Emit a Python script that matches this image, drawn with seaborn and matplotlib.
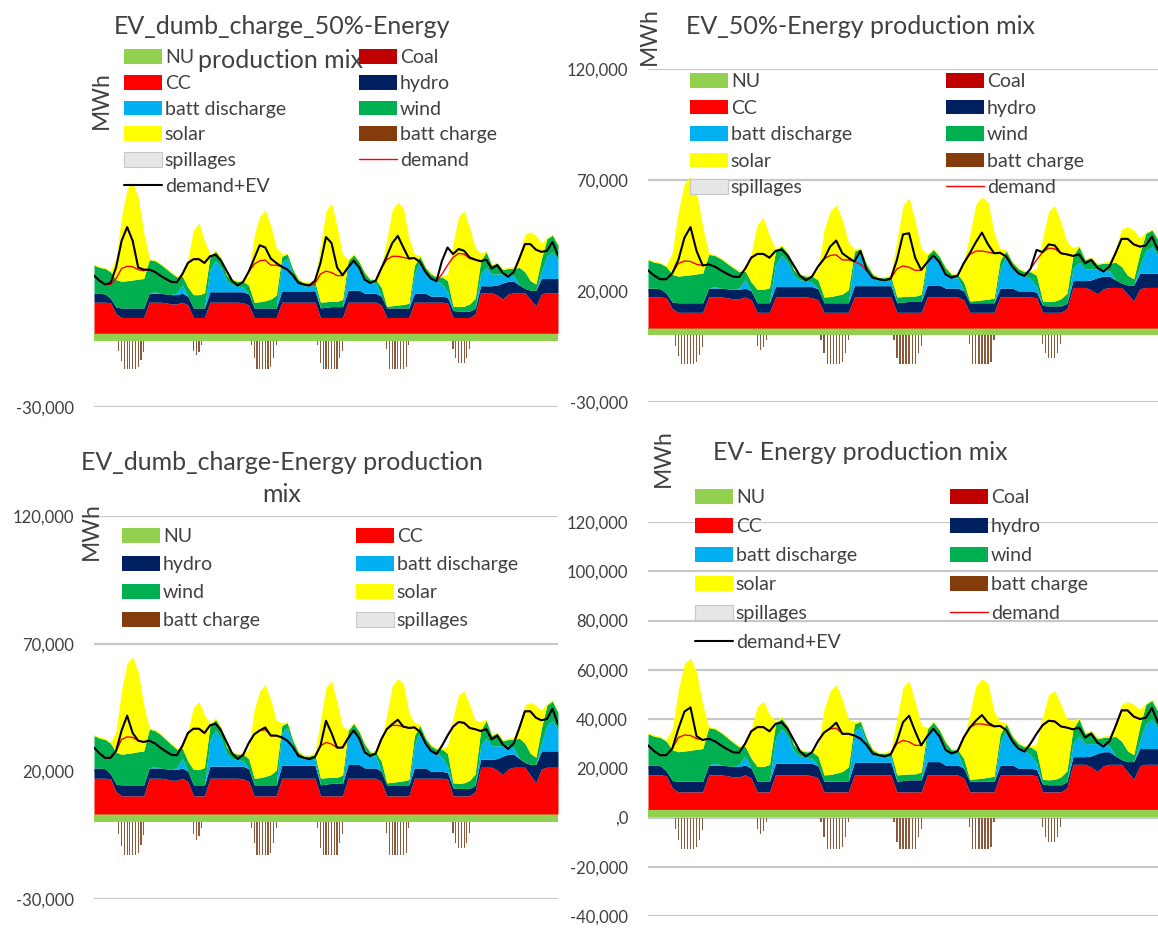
import numpy as np
import pandas as pd
import matplotlib
matplotlib.use("Agg")
import matplotlib.pyplot as plt
import seaborn as sns
from matplotlib.patches import Patch
from matplotlib.lines import Line2D

# ------------------------------------------------------------------
# Data (thousand MWh), one value every 2 hours
# Cumulative top of each stacked layer (NU -> CC -> hydro -> batt -> wind -> solar)
# ------------------------------------------------------------------
hours = list(range(0, 170, 2))
nu_k = 3.3          # NU band (constant)
coal_k = 0.0        # coal (not visible)
spill_k = 0.0       # spillages (not visible)

cc_top_k = [17.3,17.3,17.3,17.0,12.0,10.4,10.4,10.4,10.4,10.4,17.3,17.3,
            17.3,17.0,16.5,16.5,17.3,16.0,10.4,10.4,10.4,17.3,17.3,17.3,
            17.3,17.3,17.3,17.0,16.0,10.4,10.4,10.4,10.4,10.4,17.3,17.3,
            17.3,17.3,17.3,17.3,17.3,10.4,10.4,10.4,10.4,10.4,17.3,17.3,
            17.3,17.3,17.3,17.3,16.0,10.4,10.4,10.4,10.4,10.4,17.3,17.3,
            17.3,17.3,17.3,17.3,17.0,10.4,10.4,10.4,10.4,12.0,21.6,21.6,
            21.6,20.5,18.7,21.0,21.6,21.6,21.6,18.5,15.5,21.0,21.6,21.6,21.6]

hydro_top_k = [21.3,21.3,21.0,19.0,15.0,14.7,14.7,14.7,14.7,14.7,21.3,21.3,
               21.3,21.0,20.7,20.7,21.3,20.0,14.7,14.7,14.7,22.0,22.0,22.0,
               22.0,22.0,22.0,22.0,21.0,14.7,14.7,14.7,14.7,14.7,22.4,22.4,
               22.4,22.4,22.4,22.4,22.4,14.7,15.0,15.3,15.3,15.3,22.7,22.7,
               22.7,21.3,21.3,21.3,20.0,14.7,14.7,14.7,14.7,14.7,21.3,21.3,
               21.3,20.0,20.0,20.0,19.5,13.5,13.3,13.3,13.3,14.5,24.7,24.7,
               24.7,25.0,26.0,26.7,26.7,25.0,23.5,22.7,22.7,28.0,28.0,28.0,28.0]

batt_top_k = [21.3,21.3,21.0,19.0,15.0,14.7,14.7,14.7,14.7,14.7,21.3,22.0,
              21.3,21.0,20.7,21.5,25.0,20.0,14.7,14.7,14.7,32.0,36.0,33.0,
              27.0,25.0,24.7,24.0,21.0,14.7,14.7,14.7,14.7,14.7,35.0,37.0,
              30.0,26.0,24.7,24.7,24.7,14.7,15.0,15.3,15.3,15.3,33.0,36.0,
              33.0,28.5,26.0,26.0,20.0,14.7,14.7,14.7,14.7,14.7,30.0,36.0,
              31.5,28.5,27.3,25.5,22.0,13.5,13.3,13.3,13.3,14.5,30.0,33.0,
              30.0,30.0,30.0,30.0,29.0,25.0,23.5,22.7,22.7,31.0,38.0,40.0,36.0]

wind_top_k = [34.0,33.0,32.5,31.0,27.5,26.7,27.0,27.3,27.7,28.0,36.5,36.0,
              34.5,32.5,30.5,28.7,29.0,24.0,20.7,20.7,21.5,38.0,40.3,37.0,
              29.5,27.3,26.7,26.7,25.0,17.3,17.5,18.0,18.7,20.5,38.0,39.0,
              32.0,27.5,26.0,26.0,26.5,17.3,17.5,17.7,17.7,18.5,36.0,38.7,
              35.5,30.5,27.5,27.5,24.0,15.5,15.7,16.0,16.3,16.8,34.0,38.0,
              33.0,30.0,28.7,28.7,27.0,15.5,15.3,15.5,16.5,19.0,36.0,40.0,
              34.0,35.0,32.0,32.5,32.5,33.0,31.0,27.0,25.5,37.0,46.0,47.5,43.0]

# solar top, top-row charts (50% EV)
solar_top_50_k = [34.5,33.5,33.0,31.5,37.5,56.0,68.5,71.6,64.5,49.0,37.0,36.5,
                  35.0,33.0,31.0,29.2,30.0,37.0,50.0,53.0,45.0,39.0,41.0,37.5,
                  30.0,27.8,27.2,27.2,29.5,47.5,56.0,58.8,52.0,42.0,39.0,39.5,
                  32.5,28.0,26.5,26.5,27.5,43.0,58.5,62.0,51.5,39.0,36.5,39.3,
                  36.0,31.0,28.0,28.0,33.0,45.5,59.0,62.4,60.0,46.5,39.0,38.5,
                  33.5,30.5,29.2,29.2,30.0,44.0,56.0,58.5,51.0,42.0,39.5,40.5,
                  34.5,35.5,32.5,33.0,33.5,39.0,48.0,49.0,47.5,44.0,46.5,48.0,43.5]

# solar top, bottom-row charts (100% EV)
solar_top_100_k = [34.5,33.5,33.0,31.5,36.0,52.0,62.5,64.7,59.0,46.0,37.0,36.5,
                   35.0,33.0,31.0,29.2,30.0,36.0,45.0,47.3,42.0,39.0,41.0,37.5,
                   30.0,27.8,27.2,27.2,29.0,44.0,51.5,54.0,48.0,40.0,39.0,39.5,
                   32.5,28.0,26.5,26.5,27.5,40.0,53.0,55.5,47.0,37.5,36.5,39.3,
                   36.0,31.0,28.0,28.0,32.0,42.0,53.5,56.3,54.5,43.0,39.0,38.5,
                   33.5,30.5,29.2,29.2,30.0,41.0,50.0,51.5,46.0,40.0,39.5,40.5,
                   34.5,35.5,32.5,33.0,33.5,38.0,46.0,47.0,46.0,44.0,46.5,48.0,43.5]

demand_k = [29.3,27.0,25.3,25.3,28.0,32.5,33.5,33.3,32.0,31.5,32.0,31.0,
            29.3,27.8,26.5,26.3,30.0,35.0,36.7,36.7,35.0,38.0,38.7,36.0,
            31.5,27.0,24.8,26.5,31.0,34.5,36.0,36.3,34.0,34.0,33.3,32.0,
            29.5,26.0,25.3,24.8,25.7,30.0,31.3,30.7,29.3,29.3,33.0,36.0,
            33.0,27.5,26.0,27.0,32.5,36.5,38.0,38.0,37.5,37.0,37.2,35.5,
            31.0,28.0,26.8,30.0,34.0,37.5,39.3,39.0,37.0,36.5,35.8,36.5,
            32.5,34.0,30.5,28.8,31.0,37.0,43.5,43.5,41.0,40.0,40.5,44.5,38.5]

ev_dumb50_k = [29.3,27.0,25.3,26.0,33.0,45.0,51.2,45.0,33.0,32.0,32.0,31.0,
               29.3,27.8,26.5,26.3,30.0,35.0,36.7,36.7,35.0,38.0,38.7,36.0,
               31.5,27.0,24.8,26.5,31.0,37.0,43.0,42.0,37.0,35.0,33.3,32.0,
               29.5,26.0,25.3,24.8,27.0,35.0,46.7,44.0,33.0,29.5,33.0,36.0,
               33.0,27.5,26.0,27.0,32.5,38.0,44.0,47.2,42.0,37.0,37.2,35.5,
               31.0,28.0,26.8,36.0,42.0,39.0,41.3,40.5,37.5,36.5,35.8,36.5,
               32.5,34.0,30.5,28.8,31.0,37.0,43.5,43.5,41.0,40.0,40.5,44.5,38.5]

ev_50_k = [29.3,27.0,25.3,25.3,28.0,34.0,44.0,48.8,38.0,31.5,32.0,31.0,
           29.3,27.8,26.5,26.3,30.0,35.0,36.7,36.7,35.0,38.0,38.7,36.0,
           31.5,27.0,24.8,26.5,31.0,34.5,40.0,42.7,37.0,35.0,33.3,38.0,
           29.5,26.0,25.3,24.8,25.7,34.0,45.5,46.0,35.0,29.5,33.0,36.0,
           33.0,27.5,26.0,27.0,32.5,37.0,42.0,46.3,41.0,37.0,37.2,35.5,
           31.0,28.0,26.8,30.0,38.5,37.5,41.0,40.5,37.0,36.5,35.8,36.5,
           32.5,34.0,30.5,28.8,31.0,37.0,43.5,43.5,41.0,40.0,40.5,44.5,38.5]

ev_dumb_k = [29.3,27.0,25.3,25.3,28.0,36.0,41.8,35.0,32.0,31.5,32.0,31.0,
             29.3,27.8,26.5,26.3,30.0,35.0,36.7,36.7,35.0,38.0,38.7,36.0,
             31.5,27.0,24.8,26.5,31.0,34.5,36.0,37.2,34.0,34.0,33.3,32.0,
             29.5,26.0,25.3,24.8,25.7,30.0,39.8,35.0,29.3,29.3,33.0,36.0,
             33.0,27.5,26.0,27.0,32.5,36.5,38.5,40.2,37.5,37.0,37.2,35.5,
             31.0,28.0,26.8,30.0,34.0,37.5,39.3,39.0,37.0,36.5,35.8,36.5,
             32.5,34.0,30.5,28.8,31.0,37.0,43.5,43.5,41.0,40.0,40.5,44.5,38.5]

ev_k = [29.3,27.0,25.3,25.3,28.0,36.0,43.0,44.7,33.0,31.5,32.0,31.0,
        29.3,27.8,26.5,26.3,30.0,35.0,36.7,36.7,35.0,38.0,38.7,36.0,
        31.5,27.0,24.8,26.5,31.0,34.5,36.2,38.5,34.0,34.0,33.3,32.0,
        29.5,26.0,25.3,24.8,25.7,31.0,38.7,41.3,35.0,29.3,33.0,36.0,
        33.0,27.5,26.0,27.0,32.5,36.5,39.3,41.6,38.5,37.0,37.2,35.5,
        31.0,28.0,26.8,30.0,34.0,37.5,39.3,39.0,37.0,36.5,35.8,36.5,
        32.5,34.0,30.5,28.8,31.0,37.0,43.5,43.5,41.0,40.0,40.5,44.5,38.5]

# battery charging (negative), hourly
charge_hours = [9,10,11,12,13,14,15,16,17,18,
                36,37,38,39,
                57,58,59,60,61,62,63,64,65,66,
                81,82,83,84,85,86,87,88,89,90,
                106,107,108,109,110,111,112,113,114,
                130,131,132,133,134,135,136]
charge_k = [-4.7,-9.3,-12.7,-12.7,-12.7,-12.7,-12.7,-12.0,-9.0,-5.0,
            -4.7,-6.7,-5.3,-2.0,
            -2.0,-8.0,-12.7,-12.7,-12.7,-12.7,-12.7,-12.0,-8.0,-2.0,
            -2.0,-10.0,-12.7,-12.7,-12.7,-12.7,-12.7,-12.7,-8.0,-4.7,
            -4.0,-12.7,-12.7,-12.7,-12.7,-12.7,-12.7,-12.0,-2.0,
            -4.0,-8.0,-10.0,-10.0,-10.0,-8.0,-4.0]

# ------------------------------------------------------------------
COL = {'NU': '#92D050', 'Coal': '#C00000', 'CC': '#FF0000', 'hydro': '#002060',
       'batt discharge': '#00B0F0', 'wind': '#00B050', 'solar': '#FFFF00',
       'batt charge': '#843C0C', 'spillages': '#E7E6E6',
       'demand': '#FF0000', 'demand+EV': '#000000'}
TXT = '#404040'

sns.set_theme(style="white")
plt.rcParams['font.family'] = ['Lato', 'DejaVu Sans']

W, H = 1158, 932
fig = plt.figure(figsize=(W / 100, H / 100), dpi=100)
fig.patch.set_facecolor('white')


def fx(px):
    return px / W


def fy(py):
    return 1 - py / H


K = 1000.0
df = pd.DataFrame({'hour': hours,
                   'cc': np.array(cc_top_k) * K, 'hydro': np.array(hydro_top_k) * K,
                   'batt': np.array(batt_top_k) * K, 'wind': np.array(wind_top_k) * K,
                   'solar50': np.array(solar_top_50_k) * K,
                   'solar100': np.array(solar_top_100_k) * K,
                   'demand': np.array(demand_k) * K,
                   'ev_dumb50': np.array(ev_dumb50_k) * K, 'ev50': np.array(ev_50_k) * K,
                   'ev_dumb': np.array(ev_dumb_k) * K, 'ev': np.array(ev_k) * K})

LW_DEM = 1.0
LW_EV = 1.5
handles = {
    'NU': Patch(fc=COL['NU'], ec='none'), 'Coal': Patch(fc=COL['Coal'], ec='none'),
    'CC': Patch(fc=COL['CC'], ec='none'), 'hydro': Patch(fc=COL['hydro'], ec='none'),
    'batt discharge': Patch(fc=COL['batt discharge'], ec='none'),
    'wind': Patch(fc=COL['wind'], ec='none'), 'solar': Patch(fc=COL['solar'], ec='none'),
    'batt charge': Patch(fc=COL['batt charge'], ec='none'),
    'spillages': Patch(fc=COL['spillages'], ec='#C8C8C8', lw=0.8),
    'demand': Line2D([], [], color=COL['demand'], lw=LW_DEM),
    'demand+EV': Line2D([], [], color='black', lw=LW_EV),
}

LEG_FS = 14
FS_PX = LEG_FS * 100 / 72
ROW_H = 0.907 * FS_PX


def add_legend(cols, first_center, pitch):
    ls = (pitch - ROW_H) / FS_PX
    top = first_center - ROW_H / 2
    for xp, labs in cols:
        fig.legend([handles[l] for l in labs], labs, loc='upper left',
                   bbox_to_anchor=(fx(xp), fy(top)), bbox_transform=fig.transFigure,
                   frameon=False, fontsize=LEG_FS, labelcolor=TXT,
                   handlelength=1.95, handleheight=0.78, handletextpad=0.15,
                   labelspacing=ls, borderpad=0, borderaxespad=0)


panels = [
    dict(box=(94, 74.6, 558, 407), ylim=(-30000, 120000), ticks=[-30000], tlabels=['-30,000'],
         solar='solar50', ev='ev_dumb50', hour=(326, 410), mwh=(101, 100),
         titles=[('EV_dumb_charge_50%-Energy', 282, 27), ('production mix', 281, 60)],
         legend=([(124, ['NU', 'CC', 'batt discharge', 'solar', 'spillages', 'demand+EV']),
                  (359, ['Coal', 'hydro', 'wind', 'batt charge', 'demand'])], 58, 26.3)),
    dict(box=(648, 69, 1158, 402), ylim=(-30000, 120000), ticks=[-30000, 20000, 70000, 120000],
         tlabels=['-30,000', '20,000', '70,000', '120,000'],
         solar='solar50', ev='ev50', hour=(899, 409), mwh=(649, 36),
         titles=[('EV_50%-Energy production mix', 860, 27)],
         legend=([(690, ['NU', 'CC', 'batt discharge', 'solar', 'spillages']),
                  (946, ['Coal', 'hydro', 'wind', 'batt charge', 'demand'])], 82, 27.0)),
    dict(box=(94, 516, 558, 899), ylim=(-30000, 120000), ticks=[-30000, 20000, 70000, 120000],
         tlabels=['-30,000', '20,000', '70,000', '120,000'],
         solar='solar100', ev='ev_dumb', hour=(327, 916), mwh=(91, 531),
         titles=[('EV_dumb_charge-Energy production', 282, 462), ('mix', 282, 494)],
         legend=([(122, ['NU', 'hydro', 'wind', 'batt charge']),
                  (356, ['CC', 'batt discharge', 'solar', 'spillages'])], 537, 28.6)),
    dict(box=(648, 522, 1158, 916), ylim=(-40000, 120000),
         ticks=[-40000, -20000, 0, 20000, 40000, 60000, 80000, 100000, 120000],
         tlabels=['-40,000', '-20,000', ',0', '20,000', '40,000', '60,000', '80,000',
                  '100,000', '120,000'],
         solar='solar100', ev='ev', hour=(905, 916), mwh=(663, 458),
         titles=[('EV- Energy production mix', 860, 452)],
         legend=([(695, ['NU', 'CC', 'batt discharge', 'solar', 'spillages', 'demand+EV']),
                  (950, ['Coal', 'hydro', 'wind', 'batt charge', 'demand'])], 498, 29.6)),
]

for p in panels:
    x0, y0, x1, y1 = p['box']
    ax = fig.add_axes([fx(x0), fy(y1), (x1 - x0) / W, (y1 - y0) / H])
    ax.set_facecolor('none')
    ax.set_xlim(0, 168)
    ax.set_ylim(*p['ylim'])
    ax.set_yticks(p['ticks'])
    ax.set_yticklabels(p['tlabels'])
    ax.set_xticks([])
    ax.tick_params(axis='y', length=0, pad=14.4, labelsize=12, labelcolor=TXT)
    for s in ax.spines.values():
        s.set_visible(False)
    ax.grid(axis='y', color='#C8C8C8', lw=1.6)
    ax.set_axisbelow(True)

    # stacked areas
    ax.fill_between(df['hour'], 0, nu_k * K, color=COL['NU'], lw=0, zorder=2)
    ax.fill_between(df['hour'], nu_k * K, df['cc'], color=COL['CC'], lw=0, zorder=2)
    ax.fill_between(df['hour'], df['cc'], df['hydro'], color=COL['hydro'], lw=0, zorder=2)
    ax.fill_between(df['hour'], df['hydro'], df['batt'], color=COL['batt discharge'], lw=0, zorder=2)
    ax.fill_between(df['hour'], df['batt'], df['wind'], color=COL['wind'], lw=0, zorder=2)
    ax.fill_between(df['hour'], df['wind'], df[p['solar']], color=COL['solar'], lw=0, zorder=2)

    # battery charging bars
    ax.bar(charge_hours, np.array(charge_k) * K, width=0.4, color='#8C5A3A', lw=0, zorder=3)

    # demand lines
    sns.lineplot(data=df, x='hour', y='demand', ax=ax, color=COL['demand'], lw=LW_DEM, zorder=5)
    sns.lineplot(data=df, x='hour', y=p['ev'], ax=ax, color='black', lw=LW_EV, zorder=6)

    # axis labels
    ax.set_xlabel('Hour', fontsize=16, color=TXT)
    ax.xaxis.label.set_va('center')
    ax.xaxis.set_label_coords((p['hour'][0] - x0) / (x1 - x0), (y1 - p['hour'][1]) / (y1 - y0))
    ax.set_ylabel('MWh', fontsize=16.5, color=TXT)
    ax.yaxis.label.set_va('center')
    ax.yaxis.label.set_ha('center')
    ax.yaxis.set_label_coords((p['mwh'][0] - x0) / (x1 - x0), (y1 - p['mwh'][1]) / (y1 - y0))

    for t, tx, ty in p['titles']:
        fig.text(fx(tx), fy(ty), t, ha='center', va='center', fontsize=18, color=TXT)

    cols, fc, pitch = p['legend']
    add_legend(cols, fc, pitch)

fig.savefig('out.png', dpi=100, facecolor='white')
